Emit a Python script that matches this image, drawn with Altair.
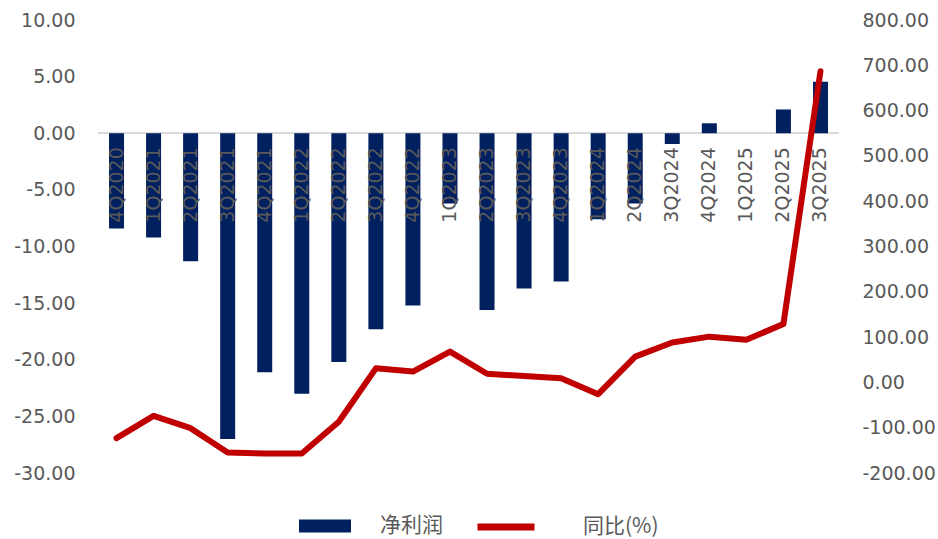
import altair as alt
import pandas as pd

quarters = ["4Q2020", "1Q2021", "2Q2021", "3Q2021", "4Q2021", "1Q2022", "2Q2022",
            "3Q2022", "4Q2022", "1Q2023", "2Q2023", "3Q2023", "4Q2023", "1Q2024",
            "2Q2024", "3Q2024", "4Q2024", "1Q2025", "2Q2025", "3Q2025"]
net_profit = [-8.4, -9.2, -11.3, -27.0, -21.1, -23.0, -20.2, -17.3, -15.2, -6.2,
              -15.6, -13.7, -13.1, -7.6, -6.2, -0.95, 0.88, 0.0, 2.1, 4.55]
yoy = [-123, -74, -101, -155, -157, -157, -87, 31, 24, 68,
       19, 14, 9, -26, 57, 88, 101, 94, 129, 687]
left_ticks = [-30, -25, -20, -15, -10, -5, 0, 5, 10]
right_ticks = [-200, -100, 0, 100, 200, 300, 400, 500, 600, 700, 800]

bar_name = "净利润"
line_name = "同比(%)"

df = pd.DataFrame({
    "q": quarters,
    "np": net_profit,
    "yoy": yoy,
    "s1": bar_name,
    "s2": line_name,
})

FONT = "DejaVu Sans"
GREY = "#595959"
NAVY = "#002060"
RED = "#C00000"
LBL = "replace(format(datum.value, '.2f'), '\u2212', '-')"

x_enc = alt.X("q:N", sort=quarters, axis=None,
              scale=alt.Scale(paddingInner=0.6, paddingOuter=0.3))
y_left_scale = alt.Scale(domain=[-30, 10], nice=False, zero=False)
left_axis = alt.Axis(values=left_ticks, labelExpr=LBL,
                     grid=False, domain=False, ticks=False, title=None,
                     labelFont=FONT, labelFontSize=19, labelColor=GREY,
                     labelPadding=23)

base = alt.Chart(df)

bars = base.mark_bar(size=15, color=NAVY).encode(
    x=x_enc,
    y=alt.Y("np:Q", scale=y_left_scale, axis=left_axis),
    color=alt.Color("s1:N", scale=alt.Scale(domain=[bar_name], range=[NAVY]),
                    legend=alt.Legend(orient="none", legendX=201, legendY=480,
                                      title=None, symbolType="M-1,-0.25H1V0.25H-1Z",
                                      symbolSize=2704, symbolStrokeWidth=0,
                                      labelFont="Noto Sans CJK SC", labelFontSize=21,
                                      labelColor=GREY, labelOffset=29)),
)

zero_rule = base.mark_rule(color="#d9d9d9", strokeWidth=1.5).encode(
    y=alt.datum(0, scale=y_left_scale, axis=left_axis)
)

labels = base.mark_text(angle=270, align="right", baseline="middle", dx=-14,
                        font=FONT, fontSize=19, color=GREY).encode(
    x=x_enc,
    y=alt.datum(0, scale=y_left_scale, axis=left_axis),
    text="q:N",
)

left = alt.layer(zero_rule, bars, labels)

line = base.mark_line(strokeWidth=6, strokeCap="round", strokeJoin="round").encode(
    x=x_enc,
    y=alt.Y("yoy:Q", scale=alt.Scale(domain=[-200, 800], nice=False, zero=False),
            axis=alt.Axis(orient="right", values=right_ticks, labelExpr=LBL,
                          grid=False, domain=False, ticks=False, title=None,
                          labelFont=FONT, labelFontSize=19, labelColor=GREY,
                          labelAlign="left", labelPadding=23)),
    stroke=alt.Stroke("s2:N", scale=alt.Scale(domain=[line_name], range=[RED]),
                      legend=alt.Legend(orient="none", legendX=376, legendY=475,
                                        title=None, symbolType="stroke",
                                        symbolSize=3249, symbolStrokeWidth=7,
                                        labelFont="Noto Sans CJK SC", labelFontSize=21,
                                        labelColor=GREY, labelOffset=45)),
)

chart = alt.layer(left, line).resolve_scale(y="independent").properties(
    width=741,
    height=453,
    background="white",
    autosize=alt.AutoSizeParams(type="none"),
    padding={"left": 98, "top": 20, "right": 99, "bottom": 66},
).configure_view(stroke=None)

chart.save("out.html", embed_options={"renderer": "svg", "actions": False})
